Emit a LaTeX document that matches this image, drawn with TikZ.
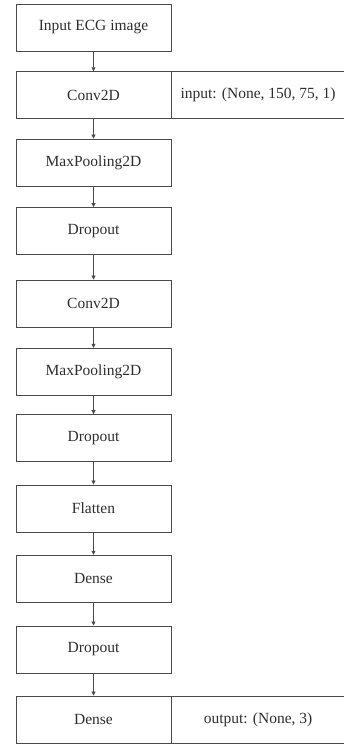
\documentclass[tikz,border=0pt]{standalone}
\usepackage{fontspec}
\setmainfont{Liberation Serif}
\usetikzlibrary{arrows.meta}
\definecolor{linegray}{HTML}{4A4A4A}
\definecolor{textgray}{HTML}{2E2E2E}
\begin{document}
\begin{tikzpicture}[x=1pt,y=-1pt,
  layer/.style={draw=linegray, line width=0.8pt, minimum width=155pt, minimum height=47pt,
    inner sep=0pt, text=textgray, font=\fontsize{15.5}{18}\selectfont},
  side/.style={draw=linegray, line width=0.8pt, minimum width=172.5pt, minimum height=47pt,
    inner sep=0pt, text=textgray, font=\fontsize{15.5}{18}\selectfont, anchor=west},
  flow/.style={draw=linegray, line width=0.7pt, -{Triangle[length=4pt,width=4pt]}}]
\useasboundingbox (0,0) rectangle (344,744);
\node[layer] (b1)  at (93.5,27.5)  {Input ECG image};
\node[layer] (b2)  at (93.5,95.2)  {Conv2D};
\node[layer] (b3)  at (93.5,162.5) {MaxPooling2D};
\node[layer] (b4)  at (93.5,231)   {Dropout};
\node[layer] (b5)  at (93.5,303.5) {Conv2D};
\node[layer] (b6)  at (93.5,371.7) {MaxPooling2D};
\node[layer] (b7)  at (93.5,438)   {Dropout};
\node[layer] (b8)  at (93.5,508.5) {Flatten};
\node[layer] (b9)  at (93.5,578.7) {Dense};
\node[layer] (b10) at (93.5,649.4) {Dropout};
\node[layer] (b11) at (93.5,719.5) {Dense};
\node[side] (s2)  at (b2.east)  {input: (None, 150, 75, 1)};
\node[side] (s11) at (b11.east) {output: (None, 3)};
\foreach \a/\b in {b1/b2,b2/b3,b3/b4,b4/b5,b5/b6,b6/b7,b7/b8,b8/b9,b9/b10,b10/b11}
  \draw[flow] (\a.south) -- (\b.north);
\end{tikzpicture}
\end{document}
